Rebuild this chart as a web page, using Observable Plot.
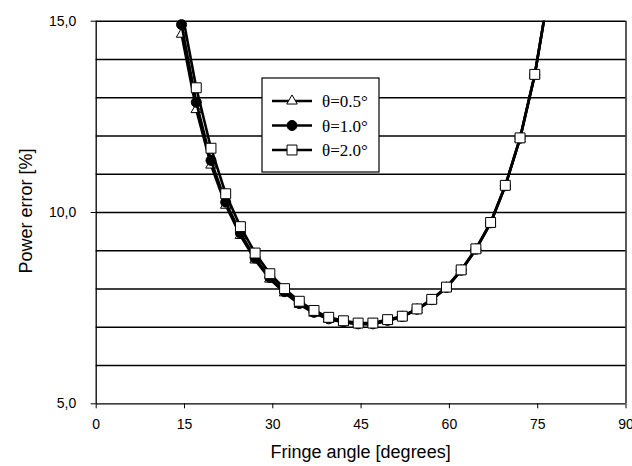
<!DOCTYPE html>
<html><head><meta charset="utf-8">
<script src="https://cdn.jsdelivr.net/npm/d3@7"></script>
<script src="https://cdn.jsdelivr.net/npm/@observablehq/plot@0.6"></script>
<style>body{margin:0;background:#fff}#chart{width:632px;height:466px}</style>
</head><body><div id="chart"></div>
<script>
const angles = [14.5,17,19.5,22,24.5,27,29.5,32,34.5,37,39.5,42,44.5,47,49.5,52,54.5,57,59.5,62,64.5,67,69.5,72,74.5,77];
const err05 = [14.66,12.69,11.24,10.19,9.40,8.76,8.26,7.90,7.60,7.37,7.21,7.13,7.08,7.08,7.17,7.27,7.46,7.71,8.03,8.48,9.03,9.72,10.69,11.93,13.59,15.87];
const err10 = [14.91,12.88,11.36,10.27,9.46,8.81,8.30,7.93,7.62,7.39,7.22,7.14,7.09,7.09,7.18,7.28,7.47,7.72,8.04,8.49,9.04,9.73,10.70,11.94,13.60,15.88];
const err20 = [15.30,13.26,11.68,10.49,9.63,8.94,8.40,8.01,7.68,7.44,7.26,7.17,7.11,7.11,7.20,7.29,7.48,7.73,8.05,8.50,9.05,9.74,10.71,11.95,13.61,15.90];
const seriesNames = ["θ=0.5°","θ=1.0°","θ=2.0°"];
const xTicks = [0,15,30,45,60,75,90];
const yTicks = [5,10,15];
const yGrid = [6,7,8,9,10,11,12,13,14,15];
const xLabel = "Fringe angle [degrees]";
const yLabel = "Power error [%]";

const rows = [];
[err05, err10, err20].forEach((arr, s) =>
  arr.forEach((v, i) => rows.push({series: seriesNames[s], angle: angles[i], err: v})));

const markerStyle = {
  "θ=0.5°": {symbol: "triangle", r: 3.9, fill: "white"},
  "θ=1.0°": {symbol: "circle", r: 5, fill: "black"},
  "θ=2.0°": {symbol: "square", r: 5.6, fill: "white"}
};

const seriesMarks = seriesNames.flatMap(name => {
  const data = rows.filter(d => d.series === name);
  const m = markerStyle[name];
  return [
    Plot.line(data, {x: "angle", y: "err", stroke: "black", strokeWidth: 2.6, clip: true}),
    Plot.dot(data.filter(d => d.err <= 15), {x: "angle", y: "err", symbol: () => m.symbol, r: m.r, fill: m.fill, stroke: "black", strokeWidth: 1})
  ];
});

const plot = Plot.plot({
  width: 632, height: 466,
  marginLeft: 95.7, marginRight: 6.5, marginTop: 20.7, marginBottom: 62.7,
  style: {fontFamily: "'Liberation Sans', Arial, sans-serif", fontSize: "14px", background: "white", color: "black"},
  x: {domain: [0, 90]},
  y: {domain: [5, 15]},
  symbol: {type: "identity"},
  marks: [
    Plot.ruleY(yGrid, {stroke: "black", strokeWidth: 1.4}),
    Plot.ruleX([0, 90], {stroke: "black", strokeWidth: 1.3}),
    Plot.ruleY([5], {stroke: "black", strokeWidth: 1.3}),
    Plot.axisX({ticks: xTicks, tickSize: 5, tickPadding: 10, label: null, tickFormat: d => String(d), fontSize: 14}),
    Plot.axisY({ticks: yTicks, tickSize: 5, tickPadding: 15, label: null, tickFormat: d => d.toFixed(1).replace(".", ","), fontSize: 14}),
    ...seriesMarks
  ]
});

document.getElementById("chart").appendChild(plot);

const svg = d3.select(plot);
svg.append("text").attr("x", 360.6).attr("y", 458).attr("text-anchor", "middle")
  .attr("font-size", 18).attr("fill", "black").text(xLabel);
svg.append("text").attr("transform", "translate(32,211) rotate(-90)").attr("text-anchor", "middle")
  .attr("font-size", 18).attr("fill", "black").text(yLabel);

// legend
const lg = svg.append("g");
lg.append("rect").attr("x", 262).attr("y", 78).attr("width", 117).attr("height", 94)
  .attr("fill", "white").attr("stroke", "black").attr("stroke-width", 1.2);
const symMap = {triangle: d3.symbolTriangle, circle: d3.symbolCircle, square: d3.symbolSquare};
seriesNames.forEach((name, i) => {
  const y = 101 + i * 24.5;
  const m = markerStyle[name];
  lg.append("line").attr("x1", 272).attr("x2", 312).attr("y1", y).attr("y2", y)
    .attr("stroke", "black").attr("stroke-width", 2.6);
  lg.append("path").attr("transform", `translate(292,${y})`)
    .attr("d", d3.symbol(symMap[m.symbol], Math.PI * m.r * m.r)())
    .attr("fill", m.fill).attr("stroke", "black").attr("stroke-width", 1);
  lg.append("text").attr("x", 322).attr("y", y + 6).attr("text-anchor", "start")
    .attr("font-family", "'Liberation Serif', 'Times New Roman', serif").attr("font-size", 17)
    .attr("fill", "black").text(name);
});
</script>
</body></html>
